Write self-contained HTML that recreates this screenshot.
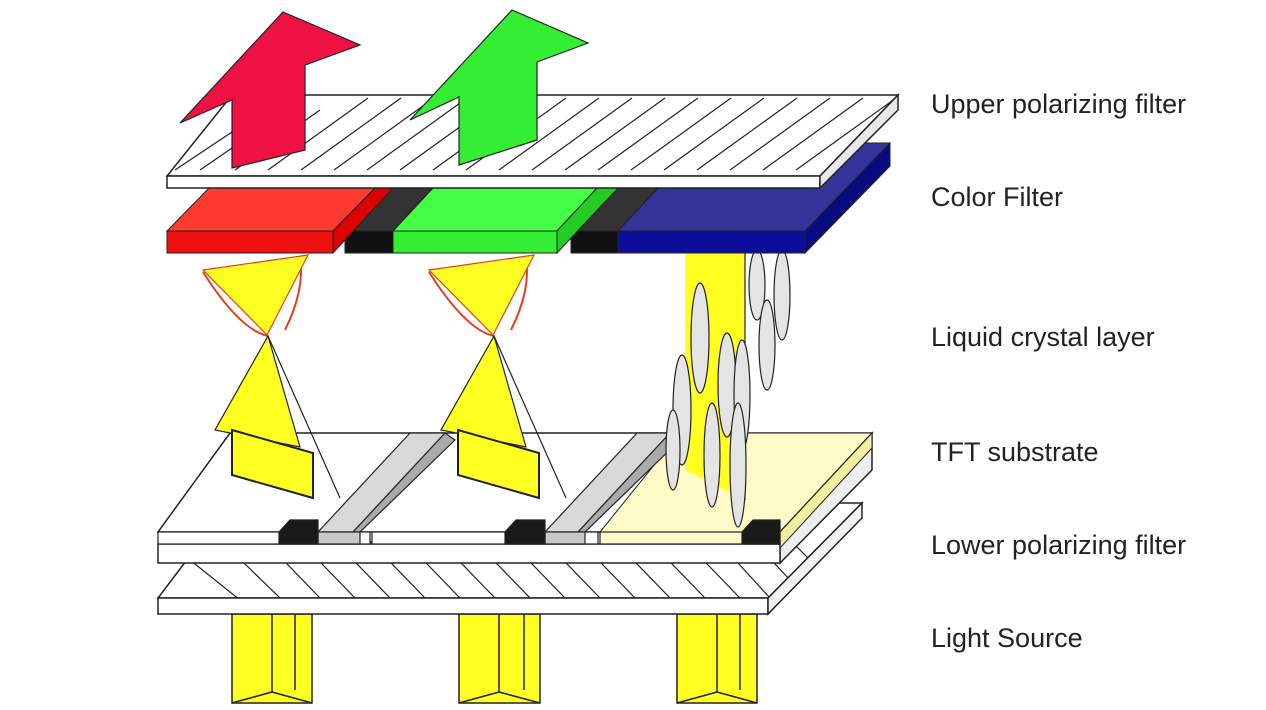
<!DOCTYPE html>
<html><head><meta charset="utf-8"><style>
html,body{margin:0;padding:0;background:#fff;width:1266px;height:710px;overflow:hidden}
svg{display:block}
text{font-family:"Liberation Sans",sans-serif;font-size:27px;fill:#222}
</style></head><body>
<svg width="1266" height="710" viewBox="0 0 1266 710" xmlns="http://www.w3.org/2000/svg">
<defs>
<clipPath id="lp"><polygon points="158,598 768,598 862,503 230,503"/></clipPath>
<clipPath id="up"><polygon points="167,176 820,176 898,95 232,95"/></clipPath>
</defs>
<g stroke="#222" stroke-width="1.5">
<polygon points="232,614 312,614 312,703 232,703" fill="#ffff22"/>
<polygon points="459,614 540,614 540,703 459,703" fill="#ffff22"/>
<polygon points="677,614 757,614 757,703 677,703" fill="#ffff22"/>
<polyline points="272,614 272,692 232,703" fill="none"/><line x1="272" y1="692" x2="312" y2="703"/><line x1="295" y1="614" x2="295" y2="690"/>
<polyline points="499,614 499,692 459,703" fill="none"/><line x1="499" y1="692" x2="540" y2="703"/><line x1="524" y1="614" x2="524" y2="690"/>
<polyline points="717,614 717,692 677,703" fill="none"/><line x1="717" y1="692" x2="757" y2="703"/><line x1="740" y1="614" x2="740" y2="690"/>
</g>
<polygon points="158,598 768,598 862,503 230,503" fill="#fff" stroke="#222" stroke-width="1.5"/>
<g clip-path="url(#lp)" stroke="#222" stroke-width="1.2">
<line x1="190" y1="560" x2="240" y2="600"/><line x1="210" y1="530" x2="280" y2="598"/><line x1="230" y1="505" x2="320" y2="598"/>
<line x1="265" y1="505" x2="355" y2="598"/><line x1="300" y1="505" x2="390" y2="598"/><line x1="335" y1="505" x2="425" y2="598"/><line x1="370" y1="505" x2="460" y2="598"/><line x1="405" y1="505" x2="495" y2="598"/><line x1="440" y1="505" x2="530" y2="598"/><line x1="475" y1="505" x2="565" y2="598"/><line x1="510" y1="505" x2="600" y2="598"/><line x1="545" y1="505" x2="635" y2="598"/><line x1="580" y1="505" x2="670" y2="598"/><line x1="615" y1="505" x2="705" y2="598"/><line x1="650" y1="505" x2="740" y2="598"/><line x1="685" y1="505" x2="770" y2="598"/><line x1="720" y1="505" x2="790" y2="580"/><line x1="755" y1="505" x2="810" y2="560"/>
</g>
<polygon points="158,598 768,598 768,614 158,614" fill="#fff" stroke="#222" stroke-width="1.5"/>
<polygon points="768,598 862,503 862,518 768,614" fill="#f2f2f2" stroke="#222" stroke-width="1.5"/>
<polygon points="158,532 780,532 872,433 230,433" fill="#fff" stroke="#222" stroke-width="1.5"/>
<polygon points="600,532 780,532 872,433 680,433" fill="#fffbc8" stroke="#222" stroke-width="1"/>
<polygon points="780,532 872,433 872,470 780,563" fill="#eee" stroke="#222" stroke-width="1.5"/>
<polygon points="780,532 872,433 872,448 780,548" fill="#f0f0a0" stroke="#222" stroke-width="1"/>
<rect x="158" y="544" width="622" height="19" fill="#fff" stroke="#222" stroke-width="1.5"/>
<rect x="158" y="532" width="212" height="12" fill="#fff" stroke="#222" stroke-width="1.2"/>
<rect x="372" y="532" width="226" height="12" fill="#fff" stroke="#222" stroke-width="1.2"/>
<rect x="600" y="532" width="180" height="12" fill="#fffbc8" stroke="#222" stroke-width="1.2"/>
<g stroke="#222" stroke-width="1.2">
<polygon points="318,532 353,532 445,433 410,433" fill="#d8d8d8"/>
<polygon points="353,532 360,532 455,440 445,433" fill="#aaa"/>
<rect x="318" y="532" width="42" height="12" fill="#c8c8c8"/>
<polygon points="545,532 578,532 670,433 637,433" fill="#d8d8d8"/>
<polygon points="578,532 585,532 680,440 670,433" fill="#aaa"/>
<rect x="545" y="532" width="40" height="12" fill="#c8c8c8"/>
<polygon points="279,532 279,544 318,544 318,520 290,520" fill="#1a1a1a"/>
<polygon points="505,532 505,544 545,544 545,520 516,520" fill="#1a1a1a"/>
<polygon points="742,532 742,544 780,544 780,520 753,520" fill="#1a1a1a"/>
</g>
<g stroke="#222" stroke-width="1.2">
<g>
<path d="M203,272 Q240,330 268,336" fill="none" stroke="#e04020" stroke-width="2"/>
<path d="M300,258 Q305,290 285,330" fill="none" stroke="#e04020" stroke-width="2"/>
<polygon points="203,270 308,255 267,335" fill="#ffff22" stroke="#e04020"/>
<polygon points="268,336 215,430 300,447" fill="#ffff22"/>
<line x1="268" y1="336" x2="340" y2="498"/>
<polygon points="232,430 313,453 313,498 232,475" fill="#ffff22" stroke-width="2"/>
</g>
<g transform="translate(226,0)">
<path d="M203,272 Q240,330 268,336" fill="none" stroke="#e04020" stroke-width="2"/>
<path d="M300,258 Q305,290 285,330" fill="none" stroke="#e04020" stroke-width="2"/>
<polygon points="203,270 308,255 267,335" fill="#ffff22" stroke="#e04020"/>
<polygon points="268,336 215,430 300,447" fill="#ffff22"/>
<line x1="268" y1="336" x2="340" y2="498"/>
<polygon points="232,430 313,453 313,498 232,475" fill="#ffff22" stroke-width="2"/>
</g>
<polygon points="685,253 745,253 745,500 685,470" fill="#ffff22" stroke="none"/>
<line x1="745" y1="253" x2="745" y2="500"/>
<g fill="#e4e4e4">
<ellipse cx="757" cy="285" rx="8" ry="35"/><ellipse cx="782" cy="295" rx="8" ry="45"/>
<ellipse cx="767" cy="345" rx="8" ry="45"/><ellipse cx="700" cy="338" rx="9" ry="55"/>
<ellipse cx="727" cy="385" rx="9" ry="52"/><ellipse cx="742" cy="395" rx="8" ry="55"/>
<ellipse cx="682" cy="410" rx="9" ry="55"/><ellipse cx="712" cy="455" rx="8" ry="52"/>
<ellipse cx="738" cy="465" rx="8" ry="62"/><ellipse cx="673" cy="450" rx="7" ry="40"/>
</g>
</g>
<g stroke="#222" stroke-width="1">
<polygon points="345,231 393,231 433,188 385,188" fill="#333"/>
<rect x="345" y="231" width="48" height="22" fill="#111"/>
<polygon points="571,231 618,231 658,188 611,188" fill="#333"/>
<rect x="571" y="231" width="47" height="22" fill="#111"/>
<polygon points="167,231 333,231 375,188 209,188" fill="#ff3a30"/>
<polygon points="333,231 333,253 393,188 375,188" fill="#dd0000"/>
<rect x="167" y="231" width="166" height="22" fill="#ee1111"/>
<polygon points="393,231 557,231 597,188 433,188" fill="#44ff44"/>
<polygon points="557,231 557,253 618,188 597,188" fill="#22cc22"/>
<rect x="393" y="231" width="164" height="22" fill="#33ee33"/>
<polygon points="618,231 805,231 890,143 700,143" fill="#333399"/>
<polygon points="805,231 805,253 890,166 890,143" fill="#0a0a80"/>
<rect x="618" y="231" width="187" height="22" fill="#0d0d99"/>
</g>
<polygon points="167,176 820,176 898,95 232,95" fill="#fff" stroke="#222" stroke-width="1.5"/>
<g clip-path="url(#up)" stroke="#222" stroke-width="1.2">
<line x1="175" y1="170" x2="250" y2="120"/><line x1="200" y1="170" x2="290" y2="108"/><line x1="235" y1="170" x2="320" y2="110"/><line x1="268" y1="170" x2="368" y2="98"/><line x1="301" y1="170" x2="401" y2="98"/><line x1="334" y1="170" x2="434" y2="98"/><line x1="367" y1="170" x2="467" y2="98"/><line x1="400" y1="170" x2="500" y2="98"/><line x1="433" y1="170" x2="533" y2="98"/><line x1="466" y1="170" x2="566" y2="98"/><line x1="499" y1="170" x2="599" y2="98"/><line x1="532" y1="170" x2="632" y2="98"/><line x1="565" y1="170" x2="665" y2="98"/><line x1="598" y1="170" x2="698" y2="98"/><line x1="631" y1="170" x2="731" y2="98"/><line x1="664" y1="170" x2="764" y2="98"/><line x1="697" y1="170" x2="797" y2="98"/><line x1="730" y1="170" x2="830" y2="98"/><line x1="763" y1="170" x2="863" y2="98"/><line x1="796" y1="170" x2="896" y2="98"/>
</g>
<polygon points="167,176 820,176 820,188 167,188" fill="#fff" stroke="#222" stroke-width="1.5"/>
<polygon points="820,176 898,95 898,110 820,188" fill="#e8e8e8" stroke="#222" stroke-width="1.5"/>
<polygon points="283,12 360,45 305,65 305,150 232,168 232,100 180,123" fill="#ee1144" stroke="#222" stroke-width="1.2"/>
<polygon points="512,10 588,43 537,62 537,140 459,165 459,97 410,120" fill="#33ee33" stroke="#222" stroke-width="1.2"/>
<text x="931" y="113">Upper polarizing filter</text>
<text x="931" y="206">Color Filter</text>
<text x="931" y="346">Liquid crystal layer</text>
<text x="931" y="461">TFT substrate</text>
<text x="931" y="554">Lower polarizing filter</text>
<text x="931" y="647">Light Source</text>
</svg>
</body></html>
